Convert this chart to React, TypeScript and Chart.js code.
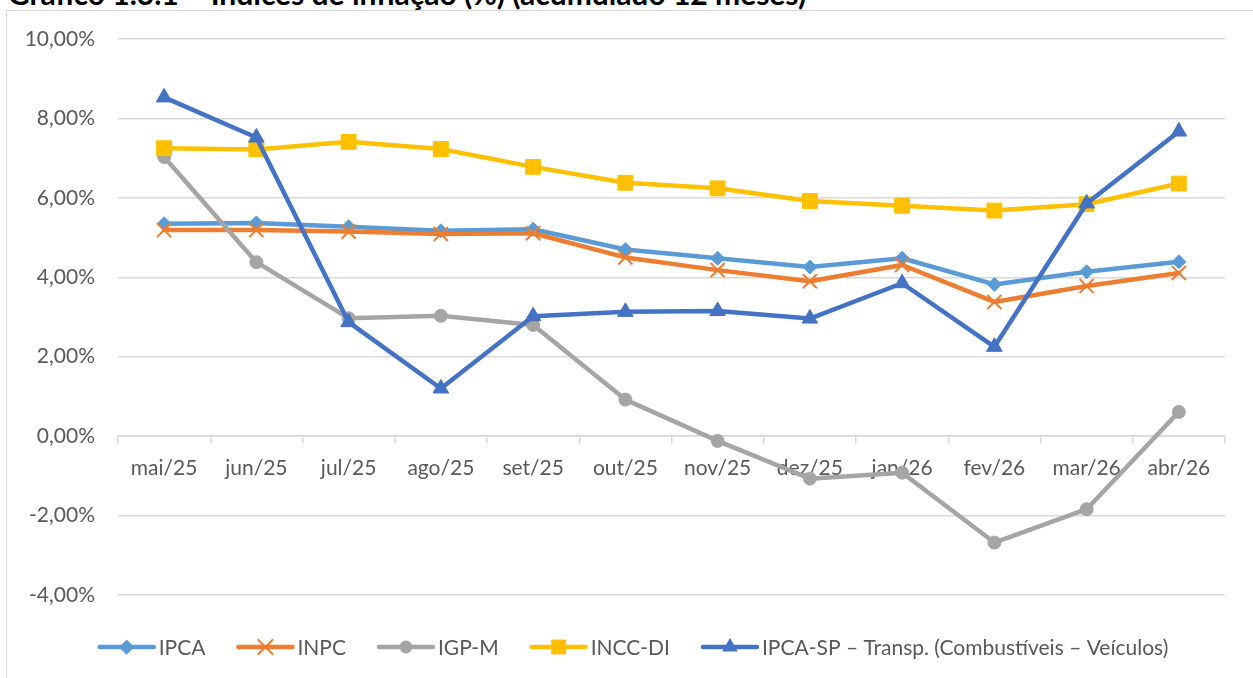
import React, { useEffect, useRef } from 'react';
import { Chart, registerables } from 'chart.js';

Chart.register(...registerables);

const title = 'Gráfico 1.3.1 – Índices de inflação (%) (acumulado 12 meses)';
const categories = ['mai/25', 'jun/25', 'jul/25', 'ago/25', 'set/25', 'out/25', 'nov/25', 'dez/25', 'jan/26', 'fev/26', 'mar/26', 'abr/26'];
const ipca = [5.35, 5.37, 5.27, 5.17, 5.21, 4.7, 4.48, 4.26, 4.48, 3.82, 4.14, 4.39];
const inpc = [5.19, 5.19, 5.15, 5.09, 5.11, 4.5, 4.18, 3.9, 4.31, 3.38, 3.78, 4.11];
const igpm = [7.03, 4.38, 2.97, 3.03, 2.8, 0.92, -0.12, -1.07, -0.92, -2.68, -1.84, 0.61];
const inccdi = [7.25, 7.22, 7.41, 7.23, 6.78, 6.38, 6.24, 5.92, 5.8, 5.68, 5.84, 6.36];
const ipcaSp = [8.53, 7.52, 2.87, 1.2, 3.02, 3.13, 3.15, 2.96, 3.85, 2.25, 5.86, 7.67];
const yTicks = [-4, -2, 0, 2, 4, 6, 8, 10];
const seriesNames = ['IPCA', 'INPC', 'IGP-M', 'INCC-DI', 'IPCA-SP – Transp. (Combustíveis – Veículos)'];

const colors = ['#5B9BD5', '#ED7D31', '#A5A5A5', '#FFC000', '#4472C4'];
const markers = ['rectRot', 'crossRot', 'circle', 'rect', 'triangle'];
const radii = [7, 10, 6.5, 10.5, 9];
const FONT = 'Lato';
const TEXT = '#595959';
const GRID = '#d9d9d9';

function drawMarker(ctx: CanvasRenderingContext2D, style: string, x: number, y: number, r: number, color: string) {
  ctx.save();
  ctx.fillStyle = color;
  ctx.strokeStyle = color;
  ctx.lineWidth = 1;
  ctx.beginPath();
  if (style === 'rectRot') {
    ctx.moveTo(x - r, y);
    ctx.lineTo(x, y - r);
    ctx.lineTo(x + r, y);
    ctx.lineTo(x, y + r);
    ctx.closePath();
    ctx.fill();
    ctx.stroke();
  } else if (style === 'crossRot') {
    const s = r * Math.SQRT1_2;
    ctx.lineWidth = 2;
    ctx.moveTo(x - s, y - s);
    ctx.lineTo(x + s, y + s);
    ctx.moveTo(x - s, y + s);
    ctx.lineTo(x + s, y - s);
    ctx.stroke();
  } else if (style === 'circle') {
    ctx.arc(x, y, r, 0, Math.PI * 2);
    ctx.fill();
  } else if (style === 'rect') {
    const s = r * Math.SQRT1_2;
    ctx.rect(x - s, y - s, 2 * s, 2 * s);
    ctx.fill();
  } else if (style === 'triangle') {
    for (let i = 0; i < 3; i++) {
      const a = (i * 2 * Math.PI) / 3;
      const px = x + Math.sin(a) * r;
      const py = y - Math.cos(a) * r;
      if (i === 0) ctx.moveTo(px, py);
      else ctx.lineTo(px, py);
    }
    ctx.closePath();
    ctx.fill();
  }
  ctx.restore();
}

const legendPlugin = {
  id: 'excelLegend',
  afterDraw(chart: any) {
    const ctx: CanvasRenderingContext2D = chart.ctx;
    ctx.save();
    ctx.font = `21px ${FONT}`;
    const lineLen = 54;
    const gapText = 5;
    const gapItem = 33;
    const widths = seriesNames.map((n) => ctx.measureText(n).width);
    const total = widths.reduce((s, w) => s + lineLen + gapText + w, 0) + gapItem * (seriesNames.length - 1);
    let x = 634 - total / 2;
    const y = 647;
    seriesNames.forEach((name, i) => {
      ctx.strokeStyle = colors[i];
      ctx.lineWidth = 4.5;
      ctx.lineCap = 'round';
      ctx.beginPath();
      ctx.moveTo(x, y);
      ctx.lineTo(x + lineLen, y);
      ctx.stroke();
      drawMarker(ctx, markers[i], x + lineLen / 2, y, radii[i], colors[i]);
      ctx.fillStyle = TEXT;
      ctx.textBaseline = 'middle';
      ctx.textAlign = 'left';
      ctx.fillText(name, x + lineLen + gapText, y + 1);
      x += lineLen + gapText + widths[i] + gapItem;
    });
    ctx.restore();
  },
};

export default function App() {
  const ref = useRef<HTMLCanvasElement | null>(null);

  useEffect(() => {
    document.body.style.margin = '0';
    const canvas = ref.current;
    if (!canvas) return;
    const series = [ipca, inpc, igpm, inccdi, ipcaSp];
    const chart = new Chart(canvas, {
      type: 'line',
      data: {
        labels: categories,
        datasets: series.map((data, i) => ({
          label: seriesNames[i],
          data,
          borderColor: colors[i],
          backgroundColor: colors[i],
          borderWidth: 4.5,
          borderCapStyle: 'round',
          borderJoinStyle: 'round',
          pointStyle: markers[i] as any,
          pointRadius: radii[i],
          pointHoverRadius: radii[i],
          pointBackgroundColor: colors[i],
          pointBorderColor: colors[i],
          pointBorderWidth: i === 1 ? 2 : 1,
          tension: 0,
          order: series.length - 1 - i,
        })),
      },
      options: {
        animation: false,
        responsive: false,
        devicePixelRatio: 1,
        layout: { padding: { left: 0, right: 28, top: 39, bottom: 83 } },
        plugins: {
          legend: { display: false },
          tooltip: { enabled: false },
          title: { display: false },
        },
        scales: {
          x: {
            type: 'category',
            position: { y: 0 } as any,
            offset: true,
            grid: {
              display: true,
              drawOnChartArea: false,
              drawTicks: true,
              tickLength: 7,
              color: GRID,
              lineWidth: 1.5,
              offset: true,
            },
            border: { display: true, color: GRID, width: 1.5 },
            ticks: {
              color: TEXT,
              font: { family: FONT, size: 21 },
              padding: 12,
              maxRotation: 0,
              autoSkip: false,
            },
          },
          y: {
            type: 'linear',
            min: yTicks[0],
            max: yTicks[yTicks.length - 1],
            afterFit: (s: any) => {
              s.width = 118;
            },
            afterBuildTicks: (s: any) => {
              s.ticks = yTicks.map((v) => ({ value: v }));
            },
            grid: { color: GRID, lineWidth: 1.5, drawTicks: false },
            border: { display: false },
            ticks: {
              color: TEXT,
              font: { family: FONT, size: 21 },
              padding: 23,
              callback: (v: any) => Number(v).toFixed(2).replace('.', ',') + '%',
            },
          },
        },
      },
      plugins: [legendPlugin],
    });
    return () => chart.destroy();
  }, []);

  return (
    <div style={{ position: 'fixed', left: 0, top: 0, width: 1253, height: 678, overflow: 'hidden', background: '#fff' }}>
      <div
        style={{
          position: 'absolute',
          left: 8,
          top: -22,
          whiteSpace: 'nowrap',
          fontFamily: FONT,
          fontWeight: 'bold',
          fontSize: 30,
          lineHeight: '30px',
          color: '#000',
        }}
      >
        {title}
      </div>
      <div
        style={{
          position: 'absolute',
          left: 6,
          top: 10,
          width: 1300,
          height: 720,
          border: `1.5px solid ${GRID}`,
          boxSizing: 'border-box',
        }}
      />
      <canvas ref={ref} width={1253} height={678} style={{ position: 'absolute', left: 0, top: 0, width: 1253, height: 678 }} />
    </div>
  );
}
